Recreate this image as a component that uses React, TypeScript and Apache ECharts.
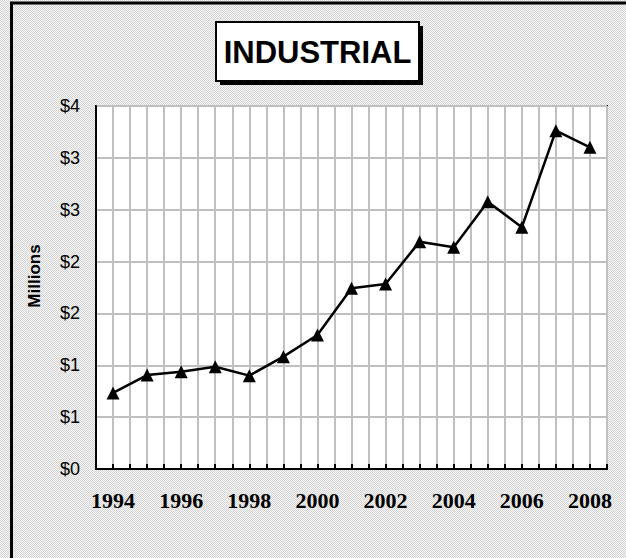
import React, { useEffect, useRef } from "react";
import * as echarts from "echarts";

const years = [1994, 1995, 1996, 1997, 1998, 1999, 2000, 2001, 2002, 2003, 2004, 2005, 2006, 2007, 2008];
const values = [0.733, 0.906, 0.938, 0.986, 0.9, 1.083, 1.292, 1.742, 1.784, 2.192, 2.138, 2.577, 2.331, 3.262, 3.102];
const titleText = "INDUSTRIAL";
const yAxisName = "Millions";

function makePattern(): string | null {
  try {
    const c = document.createElement("canvas");
    c.width = 2;
    c.height = 2;
    const ctx = c.getContext("2d");
    if (!ctx) return null;
    ctx.fillStyle = "#f6f6f6";
    ctx.fillRect(0, 0, 2, 2);
    ctx.fillStyle = "#d4d4d4";
    ctx.fillRect(0, 0, 1, 1);
    ctx.fillRect(1, 1, 1, 1);
    return c.toDataURL();
  } catch (e) {
    return null;
  }
}

export default function App() {
  const ref = useRef<HTMLDivElement>(null);
  useEffect(() => {
    document.body.style.margin = "0";
    document.body.style.background = "#e6e6e6";
    if (!ref.current) return;
    const chart = echarts.init(ref.current, null, { renderer: "svg" });
    const pat = makePattern();
    const bgFill: any = pat ? { image: pat, repeat: "repeat" } : "#e6e6e6";
    chart.setOption({
      animation: false,
      backgroundColor: "#e6e6e6",
      grid: {
        left: 96,
        top: 106,
        right: 19,
        bottom: 89,
        show: true,
        backgroundColor: "#ffffff",
        borderColor: "#000000",
        borderWidth: 2,
      },
      xAxis: {
        type: "value",
        min: 1993.5,
        max: 2008.5,
        interval: 0.5,
        axisLine: { show: true, onZero: false, lineStyle: { color: "#000", width: 2 } },
        axisTick: { show: true, inside: true, length: 5, lineStyle: { color: "#000", width: 2 } },
        splitLine: { show: true, lineStyle: { color: "#c0c0c0", width: 2 } },
        axisLabel: {
          show: true,
          margin: 20,
          color: "#000",
          fontFamily: "Liberation Serif",
          fontWeight: "bold",
          fontSize: 22,
          showMinLabel: true,
          showMaxLabel: true,
          formatter: (v: number) => {
            const r = Math.round(v * 2) / 2;
            return Number.isInteger(r) && r % 2 === 0 ? String(r) : "";
          },
        },
      },
      yAxis: {
        type: "value",
        min: 0,
        max: 3.5,
        interval: 0.5,
        axisLine: { show: true, lineStyle: { color: "#000", width: 2 } },
        axisTick: { show: false },
        splitLine: { show: true, lineStyle: { color: "#c0c0c0", width: 2 } },
        axisLabel: {
          margin: 16,
          color: "#000",
          fontFamily: "Liberation Sans",
          fontSize: 18,
          formatter: (v: number) => "$" + Math.round(v),
        },
      },
      series: [
        {
          type: "line",
          data: years.map((y, i) => [y, values[i]]),
          symbol: "triangle",
          symbolSize: 13,
          showSymbol: true,
          itemStyle: { color: "#000" },
          lineStyle: { color: "#000", width: 2.5 },
          z: 5,
        },
      ],
      graphic: [
        {
          type: "rect",
          z: -100,
          silent: true,
          shape: { x: 0, y: 0, width: 640, height: 570 },
          style: { fill: bgFill, stroke: "none", lineWidth: 0 },
        },
        {
          type: "polyline",
          z: 100,
          silent: true,
          shape: { points: [[11.5, 570], [11.5, 3], [640, 3]] },
          style: { fill: "none", stroke: "#000", lineWidth: 3 },
        },
        {
          type: "text",
          z: 100,
          silent: true,
          x: 34,
          y: 276,
          rotation: Math.PI / 2,
          style: {
            text: yAxisName,
            fill: "#000",
            font: "bold 17px 'Liberation Sans'",
            align: "center",
            verticalAlign: "middle",
          },
        },
        {
          type: "rect",
          z: 100,
          silent: true,
          shape: { x: 220, y: 26, width: 203, height: 59 },
          style: { fill: "#000" },
        },
        {
          type: "rect",
          z: 101,
          silent: true,
          shape: { x: 216, y: 22, width: 203, height: 59 },
          style: { fill: "#fff", stroke: "#000", lineWidth: 2 },
        },
        {
          type: "text",
          z: 102,
          silent: true,
          x: 317.5,
          y: 52,
          style: {
            text: titleText,
            fill: "#000",
            font: "bold 31px 'Liberation Sans'",
            align: "center",
            verticalAlign: "middle",
          },
        },
      ],
    });
    return () => chart.dispose();
  }, []);
  return (
    <div
      ref={ref}
      style={{ position: "fixed", left: 0, top: 0, width: 626, height: 558 }}
    />
  );
}
